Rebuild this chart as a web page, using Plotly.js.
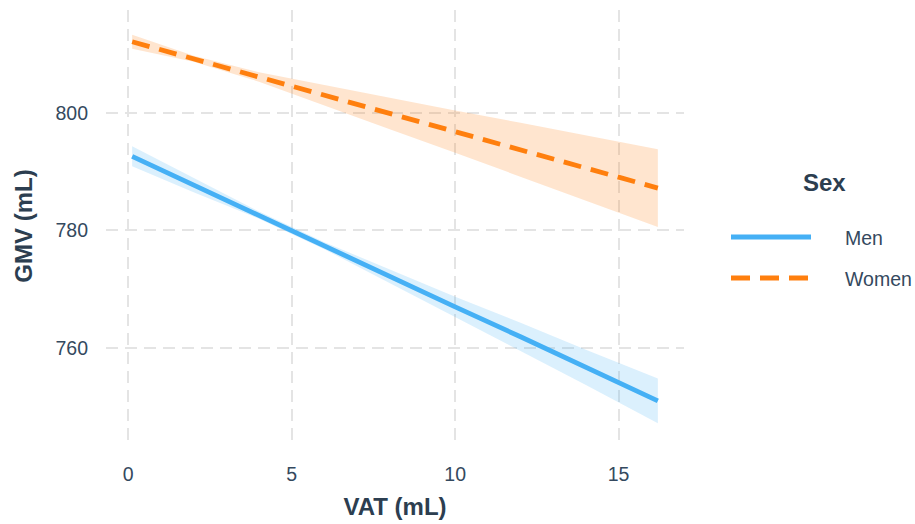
<!DOCTYPE html>
<html>
<head>
<meta charset="utf-8">
<script src="https://cdn.plot.ly/plotly-3.0.1.min.js"></script>
<style>html,body{margin:0;padding:0;background:#fff;}#chart{width:915px;height:524px;}</style>
</head>
<body>
<div id="chart"></div>
<script>
// ---- data ----
const vat = [0.12, 2, 4, 6, 8, 10, 12, 14, 16.2];

const menFit   = [792.6, 787.7, 782.6, 777.4, 772.2, 767.0, 761.9, 756.7, 751.0];
const menLower = [790.9, 786.5, 782.0, 776.8, 771.1, 765.3, 759.5, 753.7, 747.2];
const menUpper = [794.3, 788.9, 783.2, 778.0, 773.3, 768.7, 764.3, 759.7, 754.8];

const womenFit   = [812.1, 809.2, 806.1, 803.0, 799.9, 796.8, 793.7, 790.6, 787.2];
const womenLower = [810.9, 808.7, 805.3, 801.3, 797.2, 793.2, 789.1, 785.1, 780.6];
const womenUpper = [813.3, 809.7, 806.9, 804.7, 802.6, 800.4, 798.3, 796.1, 793.8];

const seriesNames = ["Men", "Women"];
const xTicks = [0, 5, 10, 15];
const yTicks = [760, 780, 800];

// ---- styling ----
const menColor = "#45b0f5";
const womenColor = "#ff7f0e";
const textColor = "#2c3e50";
const tickColor = "#34495e";
const gridColor = "#e4e4e4";
const fontFam = "Liberation Sans, Arial, sans-serif";

function ribbon(x, lo, hi, color) {
  return {
    x: x.concat(x.slice().reverse()),
    y: hi.concat(lo.slice().reverse()),
    type: "scatter", mode: "lines", fill: "toself",
    fillcolor: color, line: {width: 0}, hoverinfo: "skip", showlegend: false
  };
}

const traces = [
  ribbon(vat, menLower, menUpper, "rgba(74,179,244,0.2)"),
  ribbon(vat, womenLower, womenUpper, "rgba(255,127,14,0.2)"),
  {x: vat, y: menFit, name: seriesNames[0], type: "scatter", mode: "lines",
   line: {color: menColor, width: 4.8}, showlegend: false},
  {x: vat, y: womenFit, name: seriesNames[1], type: "scatter", mode: "lines",
   line: {color: womenColor, width: 4.8, dash: "18px,10px"}, showlegend: false}
];

// plot-area pixel frame
const L = 106, R = 684, T = 10, B = 442;
const px = v => (v - L) / (R - L);
const py = v => (B - v) / (B - T);

const layout = {
  width: 915, height: 524,
  margin: {l: L, r: 915 - R, t: T, b: 524 - B},
  paper_bgcolor: "#ffffff", plot_bgcolor: "#ffffff",
  font: {family: fontFam, color: textColor, size: 19},
  showlegend: false,
  xaxis: {
    range: [-0.68, 17.0], tickvals: xTicks, ticktext: xTicks.map(String),
    showgrid: true, gridcolor: gridColor, gridwidth: 2, griddash: "12px,7px",
    zeroline: false, showline: false, ticks: "", ticklabelstandoff: 18,
    tickfont: {size: 19.5, color: tickColor},
    title: {text: "<b>VAT (mL)</b>", font: {size: 24, color: textColor}, standoff: 14},
    automargin: false, fixedrange: true
  },
  yaxis: {
    range: [744.0, 817.5], tickvals: yTicks, ticktext: yTicks.map(String),
    showgrid: true, gridcolor: gridColor, gridwidth: 2, griddash: "12px,7px",
    zeroline: false, showline: false, ticks: "", ticklabelstandoff: 17,
    tickfont: {size: 19.5, color: tickColor},
    title: {text: "<b>GMV (mL)</b>", font: {size: 24, color: textColor}, standoff: 16},
    automargin: false, fixedrange: true
  },
  shapes: [
    {type: "line", xref: "paper", yref: "paper", x0: px(731), x1: px(811), y0: py(237), y1: py(237),
     line: {color: menColor, width: 4.8}},
    {type: "line", xref: "paper", yref: "paper", x0: px(731), x1: px(811), y0: py(278), y1: py(278),
     line: {color: womenColor, width: 4.8, dash: "19px,10px"}}
  ],
  annotations: [
    {text: "<b>Sex</b>", xref: "paper", yref: "paper", x: px(824), y: py(182),
     xanchor: "center", yanchor: "middle", showarrow: false, font: {size: 24, color: textColor}},
    {text: seriesNames[0], xref: "paper", yref: "paper", x: px(843), y: py(238),
     xanchor: "left", yanchor: "middle", showarrow: false, font: {size: 19.5, color: tickColor}},
    {text: seriesNames[1], xref: "paper", yref: "paper", x: px(843), y: py(279),
     xanchor: "left", yanchor: "middle", showarrow: false, font: {size: 19.5, color: tickColor}}
  ]
};

Plotly.newPlot("chart", traces, layout, {displayModeBar: false, staticPlot: true});
</script>
</body>
</html>
